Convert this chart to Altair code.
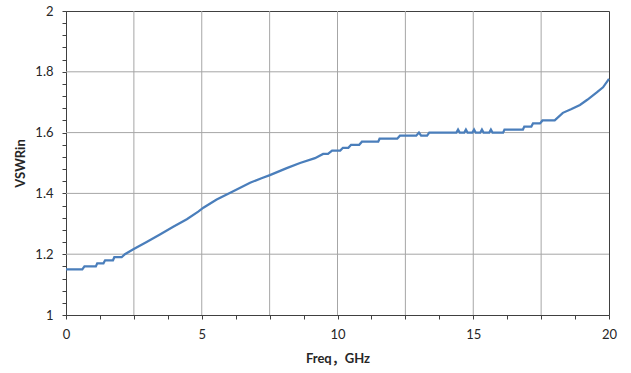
import altair as alt
import pandas as pd

freq = [0, 0.6, 0.68, 1.1, 1.15, 1.38, 1.44, 1.73, 1.78, 2.05, 2.17, 2.48, 2.97, 3.46, 3.95,
        4.45, 4.87, 5.06, 5.55, 6.16, 6.78, 7.2, 7.51, 8.13, 8.62, 9.17, 9.47, 9.65, 9.8,
        10.1, 10.2, 10.4, 10.5, 10.8, 10.9, 11.5, 11.55, 12.2, 12.3, 12.9, 13.0, 13.08, 13.3,
        13.38, 14.38, 14.44, 14.5, 14.67, 14.73, 14.79, 14.97, 15.03, 15.09, 15.26, 15.32,
        15.38, 15.59, 15.65, 15.71, 16.1, 16.15, 16.83, 16.88, 17.14, 17.2, 17.46, 17.55,
        18.0, 18.3, 18.6, 18.93, 19.2, 19.55, 19.78, 20.0]
vswr = [1.15, 1.15, 1.16, 1.16, 1.17, 1.17, 1.18, 1.18, 1.19, 1.19, 1.20, 1.216, 1.24, 1.265, 1.29,
        1.315, 1.34, 1.353, 1.38, 1.407, 1.435, 1.45, 1.46, 1.483, 1.50, 1.516, 1.53, 1.53, 1.541,
        1.541, 1.55, 1.55, 1.56, 1.56, 1.57, 1.57, 1.58, 1.58, 1.59, 1.59, 1.60, 1.59, 1.59,
        1.60, 1.60, 1.61, 1.60, 1.60, 1.61, 1.60, 1.60, 1.61, 1.60, 1.60, 1.61,
        1.60, 1.60, 1.61, 1.60, 1.60, 1.61, 1.61, 1.62, 1.62, 1.63, 1.63, 1.64,
        1.64, 1.665, 1.677, 1.691, 1.708, 1.732, 1.749, 1.777]

x_grid = [2.5, 5, 7.5, 10, 12.5, 15, 17.5]
y_grid = [1.2, 1.4, 1.6, 1.8]
x_ticks = [round(i * 1.25, 2) for i in range(17)]
y_ticks = [round(1 + i * 0.04, 2) for i in range(26)]

FONT = "Lato, Noto Sans CJK SC, sans-serif"
DARK = "#404040"
GRID = "#a6a6a6"

df = pd.DataFrame({"freq": freq, "vswr": vswr})
gx = pd.DataFrame({"freq": x_grid})
gy = pd.DataFrame({"vswr": y_grid})

xscale = alt.Scale(domain=[0, 20], nice=False, zero=False)
yscale = alt.Scale(domain=[1, 2], nice=False, zero=False)

x_axis = alt.Axis(values=x_ticks, grid=False, title="Freq，GHz",
                  labelExpr="abs(datum.value/5 - round(datum.value/5)) < 0.001 ? format(datum.value, '~g') : ''",
                  tickSize=4, labelPadding=9, titlePadding=11)
y_axis = alt.Axis(values=y_ticks, grid=False, title="VSWRin",
                  labelExpr="abs(datum.value*5 - round(datum.value*5)) < 0.001 ? format(datum.value, '~g') : ''",
                  tickSize=4, labelPadding=9, titlePadding=7)

vrules = alt.Chart(gx).mark_rule(color=GRID, strokeWidth=1).encode(
    x=alt.X("freq:Q", scale=xscale, axis=x_axis)
)
hrules = alt.Chart(gy).mark_rule(color=GRID, strokeWidth=1).encode(
    y=alt.Y("vswr:Q", scale=yscale, axis=y_axis)
)

line = alt.Chart(df).mark_line(color="#4a7ebb", strokeWidth=2.25).encode(
    x=alt.X("freq:Q", scale=xscale, axis=x_axis),
    y=alt.Y("vswr:Q", scale=yscale, axis=y_axis),
)

chart = alt.layer(vrules, hrules, line).properties(
    width=543, height=304,
    autosize=alt.AutoSizeParams(type="none"),
    padding={"left": 66, "top": 11, "right": 22, "bottom": 58},
).configure_view(
    stroke=DARK, strokeWidth=1
).configure_axis(
    domainColor=DARK, tickColor=DARK, labelColor="#262626", titleColor="#262626",
    labelFont=FONT, titleFont=FONT, labelFontSize=13, titleFontSize=13,
    titleFontWeight="bold", labelOverlap=False, labelFlush=False
)

chart.save("out.html", embed_options={"renderer": "svg", "actions": False})
